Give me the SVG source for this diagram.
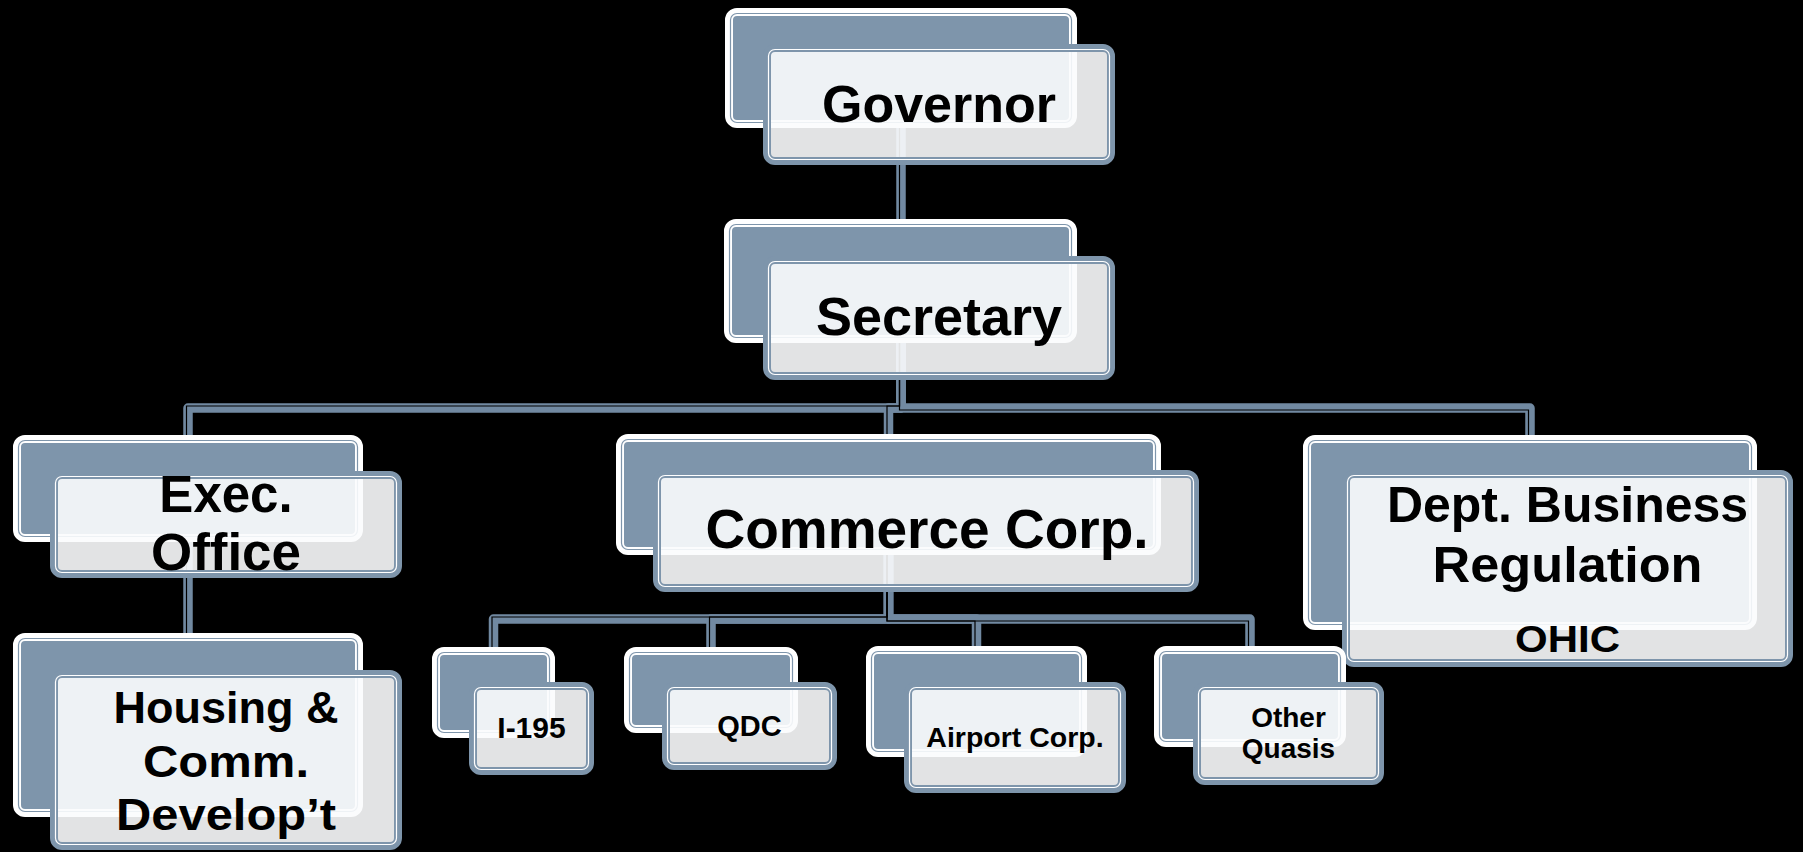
<svg xmlns="http://www.w3.org/2000/svg" width="1803" height="852" viewBox="0 0 1803 852">
<style>
.bg{fill:#000}
.cn{fill:none;stroke:#7189A1;stroke-width:9.5;stroke-linejoin:round}
.cg{fill:none;stroke:#000;stroke-width:1.2}
.bm{fill:#7E95AB;stroke:#fff;stroke-width:8}
.bl{fill:none;stroke:#7E95AB;stroke-width:1.2}
.fm{fill:#FBFCFD;fill-opacity:0.9;stroke:#7E95AB;stroke-width:8}
.fl{fill:none;stroke:#fff;stroke-width:1.2}
text{font-family:"Liberation Sans",Arial,sans-serif;font-weight:bold;fill:#000;text-anchor:middle}
</style>
<rect class="bg" x="0" y="0" width="1803" height="852"/>
<g id="connectors">
<path class="cn" d="M901,128 V219"/>
<path class="cn" d="M901,343 V408 H188 V435"/>
<path class="cn" d="M901,343 V408 H888.5 V434"/>
<path class="cn" d="M901,343 V408 H1530 V435"/>
<path class="cn" d="M188,542 V633"/>
<path class="cn" d="M888.5,555 V619 H493.5 V647"/>
<path class="cn" d="M888.5,555 V619 H711 V647"/>
<path class="cn" d="M888.5,555 V619 H976.5 V646"/>
<path class="cn" d="M888.5,555 V619 H1250 V646"/>
<path class="cg" d="M899.5,128 V219"/>
<path class="cg" d="M899.5,343 V406 H186.5 V435"/>
<path class="cg" d="M899.5,343 V406 H887 V434"/>
<path class="cg" d="M899.5,343 V410 H1528.5 V435"/>
<path class="cg" d="M186.5,542 V633"/>
<path class="cg" d="M887,555 V617 H492 V647"/>
<path class="cg" d="M887,555 V617 H709.5 V647"/>
<path class="cg" d="M887,555 V621 H975 V646"/>
<path class="cg" d="M887,555 V621 H1248.5 V646"/>
</g>
<g id="governor">
<rect class="bm" x="729" y="12" width="344" height="112" rx="8"/>
<rect class="bl" x="730.5" y="13.5" width="341" height="109" rx="6.5"/>
<rect class="fm" x="767" y="48" width="344" height="113" rx="8"/>
<rect class="fl" x="768.5" y="49.5" width="341" height="110" rx="6.5"/>
<text x="939" y="122" font-size="52">Governor</text>
</g>
<g id="secretary">
<rect class="bm" x="728" y="223" width="345" height="116" rx="8"/>
<rect class="bl" x="729.5" y="224.5" width="342" height="113" rx="6.5"/>
<rect class="fm" x="767" y="260" width="344" height="116" rx="8"/>
<rect class="fl" x="768.5" y="261.5" width="341" height="113" rx="6.5"/>
<text x="939" y="335" font-size="54">Secretary</text>
</g>
<g id="exec-office">
<rect class="bm" x="17" y="439" width="342" height="99" rx="8"/>
<rect class="bl" x="18.5" y="440.5" width="339" height="96" rx="6.5"/>
<rect class="fm" x="54" y="475" width="344" height="99" rx="8"/>
<rect class="fl" x="55.5" y="476.5" width="341" height="96" rx="6.5"/>
<text x="226" y="512" font-size="51">Exec.</text>
<text x="226" y="570" font-size="51" textLength="150" lengthAdjust="spacingAndGlyphs">Office</text>
</g>
<g id="housing">
<rect class="bm" x="17" y="637" width="342" height="176" rx="8"/>
<rect class="bl" x="18.5" y="638.5" width="339" height="173" rx="6.5"/>
<rect class="fm" x="54" y="674" width="344" height="172" rx="8"/>
<rect class="fl" x="55.5" y="675.5" width="341" height="169" rx="6.5"/>
<text x="226" y="723" font-size="45">Housing &amp;</text>
<text x="226" y="777" font-size="45" textLength="166" lengthAdjust="spacingAndGlyphs">Comm.</text>
<text x="226" y="830" font-size="45" textLength="220" lengthAdjust="spacingAndGlyphs">Develop’t</text>
</g>
<g id="commerce-corp">
<rect class="bm" x="620" y="438" width="537" height="113" rx="8"/>
<rect class="bl" x="621.5" y="439.5" width="534" height="110" rx="6.5"/>
<rect class="fm" x="657" y="474" width="538" height="114" rx="8"/>
<rect class="fl" x="658.5" y="475.5" width="535" height="111" rx="6.5"/>
<text x="927" y="548" font-size="55">Commerce Corp.</text>
</g>
<g id="dbr">
<rect class="bm" x="1307" y="439" width="446" height="187" rx="8"/>
<rect class="bl" x="1308.5" y="440.5" width="443" height="184" rx="6.5"/>
<rect class="fm" x="1346" y="474" width="443" height="189" rx="8"/>
<rect class="fl" x="1347.5" y="475.5" width="440" height="186" rx="6.5"/>
<text x="1567.5" y="522" font-size="50">Dept. Business</text>
<text x="1567.5" y="582" font-size="50" textLength="270" lengthAdjust="spacingAndGlyphs">Regulation</text>
<text x="1567.5" y="652" font-size="37" textLength="105" lengthAdjust="spacingAndGlyphs">OHIC</text>
</g>
<g id="i195">
<rect class="bm" x="436" y="651" width="115" height="83" rx="8"/>
<rect class="bl" x="437.5" y="652.5" width="112" height="80" rx="6.5"/>
<rect class="fm" x="473" y="686" width="117" height="85" rx="8"/>
<rect class="fl" x="474.5" y="687.5" width="114" height="82" rx="6.5"/>
<text x="531.5" y="738" font-size="30">I-195</text>
</g>
<g id="qdc">
<rect class="bm" x="628" y="651" width="166" height="78" rx="8"/>
<rect class="bl" x="629.5" y="652.5" width="163" height="75" rx="6.5"/>
<rect class="fm" x="666" y="686" width="167" height="80" rx="8"/>
<rect class="fl" x="667.5" y="687.5" width="164" height="77" rx="6.5"/>
<text x="749.5" y="736" font-size="29">QDC</text>
</g>
<g id="airport-corp">
<rect class="bm" x="870" y="650" width="213" height="103" rx="8"/>
<rect class="bl" x="871.5" y="651.5" width="210" height="100" rx="6.5"/>
<rect class="fm" x="908" y="686" width="214" height="103" rx="8"/>
<rect class="fl" x="909.5" y="687.5" width="211" height="100" rx="6.5"/>
<text x="1015" y="747" font-size="28.5">Airport Corp.</text>
</g>
<g id="other-quasis">
<rect class="bm" x="1158" y="650" width="184" height="93" rx="8"/>
<rect class="bl" x="1159.5" y="651.5" width="181" height="90" rx="6.5"/>
<rect class="fm" x="1197" y="686" width="183" height="95" rx="8"/>
<rect class="fl" x="1198.5" y="687.5" width="180" height="92" rx="6.5"/>
<text x="1288.5" y="727" font-size="28">Other</text>
<text x="1288.5" y="758" font-size="28">Quasis</text>
</g>
</svg>
